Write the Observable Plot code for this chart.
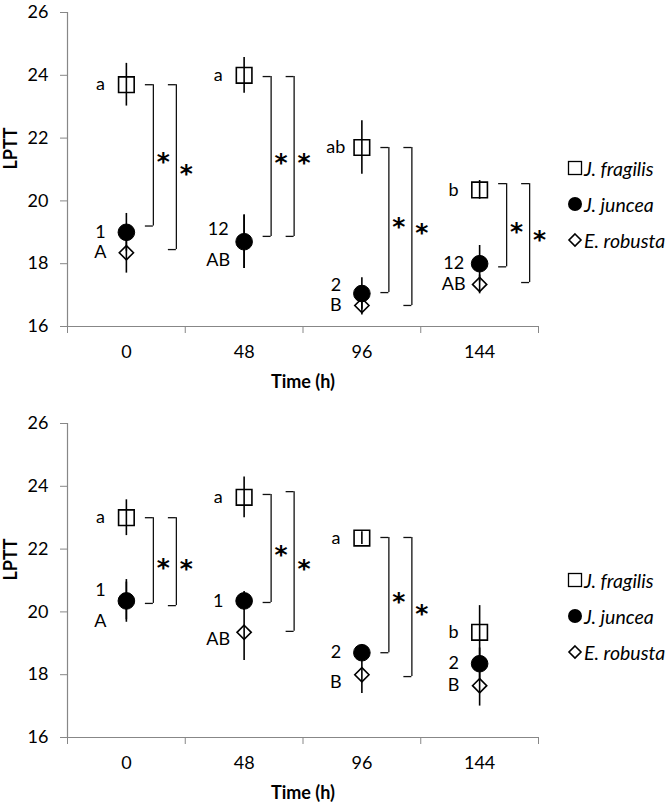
<!DOCTYPE html>
<html><head><meta charset="utf-8">
<script src="https://cdn.jsdelivr.net/npm/d3@7"></script>
<script src="https://cdn.jsdelivr.net/npm/@observablehq/plot@0.6"></script>
<style>
body{margin:0;background:#fff;}
.panel{position:relative;width:672px;}
.panel svg{display:block;}
.legend{position:absolute;left:567px;top:0;font-family:Lato,sans-serif;font-style:italic;font-size:19.5px;color:#000;}
.legend .row{position:absolute;left:0;white-space:nowrap;display:flex;align-items:center;height:22px;transform:translateY(-11px);}
.legend svg{margin-right:1px;}
</style></head><body><div id="chart"></div>
<script>
// ---------- data ----------
const times = ["0", "48", "96", "144"];
const seriesNames = ["J. fragilis", "J. juncea", "E. robusta"];
const yTicks = [16, 18, 20, 22, 24, 26];

// Panel 1 (top)
const fragilis1 = [23.7, 24.0, 21.7, 20.35];
const fragilisErr1 = [0.68, 0.57, 0.85, 0.3];
const juncea1 = [19.0, 18.7, 17.05, 18.0];
const junceaErr1 = [0.6, 0.85, 0.5, 0.58];
const robusta1 = [18.35, 18.7, 16.67, 17.34];
const robustaErr1 = [0.65, 0.85, 0.3, 0.3];
const fragLetters1 = ["a", "a", "ab", "b"];
const junceaNums1 = ["1", "12", "2", "12"];
const robustaLetters1 = ["A", "AB", "B", "AB"];
// significance brackets: top, bottom (vs J. juncea), bottom (vs E. robusta)
const brTop1 = [23.7, 23.96, 21.7, 20.55];
const brBotJ1 = [19.2, 18.87, 17.08, 17.9];
const brBotE1 = [18.45, 18.87, 16.67, 17.4];

// Panel 2 (bottom)
const fragilis2 = [23.0, 23.65, 22.35, 19.35];
const fragilisErr2 = [0.57, 0.65, 0.2, 0.85];
const juncea2 = [20.35, 20.35, 18.7, 18.35];
const junceaErr2 = [0.68, 0.3, 0.25, 0.5];
const robusta2 = [20.35, 19.35, 18.0, 17.65];
const robustaErr2 = [0.6, 0.9, 0.6, 0.65];
const fragLetters2 = ["a", "a", "a", "b"];
const junceaNums2 = ["1", "1", "2", "2"];
const robustaLetters2 = ["A", "AB", "B", "B"];
const brTopJ2 = [23.0, 23.74, 22.37];
const brTopE2 = [23.0, 23.83, 22.37];
const brBotJ2 = [20.27, 20.3, 18.7];
const brBotE2 = [20.2, 19.38, 17.94];

// ---------- layout (label nudges in y units) ----------
const nudgeJ1 = [0, 0.41, 0.25, 0];
const nudgeE1 = [0, -0.6, 0, 0];
const nudgeJ2 = [0.35, 0, 0, 0];
const nudgeE2 = [-0.64, -0.22, -0.25, 0];

const axisGray = "#878787";

function buildRows(means, errs, labels, nudges, s) {
  return means.map((m, i) => ({x: i + 0.5, series: s, mean: m, err: errs[i], label: labels[i], nudge: nudges ? nudges[i] : 0}));
}

function panel(cfg) {
  const F = buildRows(cfg.frag, cfg.fragErr, cfg.fragL, null, 0);
  const J = buildRows(cfg.jun, cfg.junErr, cfg.junL, cfg.nudgeJ, 1);
  const E = buildRows(cfg.rob, cfg.robErr, cfg.robL, cfg.nudgeE, 2);
  const all = [...E, ...J, ...F];
  const b1 = cfg.br1.top.map((t, i) => ({x: i + 0.5, top: t, bottom: cfg.br1.bottom[i]}));
  const b2 = cfg.br2.top.map((t, i) => ({x: i + 0.5, top: t, bottom: cfg.br2.bottom[i]}));
  const bracketMarks = (rows, off) => [
    Plot.ruleX(rows, {x: "x", y1: "top", y2: "bottom", dx: off, stroke: "#111", strokeWidth: 1.3}),
    Plot.ruleY(rows, {x1: "x", x2: "x", y: "top", dx: off - 8, insetRight: -8, stroke: "#111", strokeWidth: 1.3}),
    Plot.ruleY(rows, {x1: "x", x2: "x", y: "bottom", dx: off - 8, insetRight: -8, stroke: "#111", strokeWidth: 1.3}),
    Plot.text(rows, {x: "x", y: d => (d.top + d.bottom) / 2, text: () => "*", dx: off + 10, dy: 7, fontSize: 25, fontWeight: "bold", fontFamily: "DejaVu Sans", fill: "#000"})
  ];
  return Plot.plot({
    width: 672,
    height: cfg.height,
    marginLeft: 67,
    marginRight: 134,
    marginTop: cfg.marginTop,
    marginBottom: cfg.marginBottom,
    style: {fontFamily: "Lato, sans-serif", fontSize: "18px", color: "#000", background: "#fff"},
    x: {type: "linear", domain: [0, 4], label: null},
    y: {domain: [16, 26], label: null},
    marks: [
      Plot.ruleX([0], {y1: 16, y2: 26, stroke: axisGray, strokeWidth: 1.2}),
      Plot.ruleY([16], {stroke: axisGray, strokeWidth: 1.2}),
      Plot.axisY({ticks: yTicks, tickSize: 7, tickPadding: 12, stroke: axisGray, label: null, fontSize: 18}),
      Plot.axisX({ticks: [0, 1, 2, 3, 4], tickFormat: () => "", tickSize: 7, stroke: axisGray, label: null}),
      Plot.axisX({ticks: [0.5, 1.5, 2.5, 3.5], tickFormat: d => times[Math.floor(d)], tickSize: 0, tickPadding: 19, label: null, fontSize: 18}),
      Plot.text(["Time (h)"], {text: d => d, frameAnchor: "bottom", dy: 56, fontWeight: "bold", fontSize: 18, lineAnchor: "middle"}),
      Plot.text(["LPTT"], {text: d => d, frameAnchor: "left", dx: -56, rotate: -90, fontWeight: "bold", fontSize: 18, lineAnchor: "middle"}),
      ...bracketMarks(b1, 27),
      ...bracketMarks(b2, 50),
      Plot.dot(E, {x: "x", y: "mean", symbol: "diamond2", r: 6.4, fill: "#fff", stroke: "#000", strokeWidth: 1.6}),
      Plot.dot(J, {x: "x", y: "mean", symbol: "circle", r: 8.3, fill: "#000", stroke: "#000", strokeWidth: 1}),
      Plot.dot(F, {x: "x", y: "mean", symbol: "square", r: 8.8, fill: "#fff", stroke: "#000", strokeWidth: 1.6}),
      Plot.ruleX(all, {x: "x", y1: d => d.mean - d.err, y2: d => d.mean + d.err, stroke: "#000", strokeWidth: 1.6}),
      Plot.text(all, {x: "x", y: d => d.mean + d.nudge, text: "label", dx: -26, fontSize: 18, textAnchor: "middle", lineAnchor: "middle", fill: "#000"})
    ]
  });
}

function legend(rowsY) {
  const div = document.createElement("div");
  div.className = "legend";
  const icons = [
    '<svg width="16" height="16"><rect x="1.5" y="1.5" width="13" height="13" fill="#fff" stroke="#000" stroke-width="1.3"/></svg>',
    '<svg width="16" height="16"><circle cx="8" cy="8" r="7" fill="#000"/></svg>',
    '<svg width="16" height="16"><path d="M8 2 L14 8 L8 14 L2 8 Z" fill="#fff" stroke="#000" stroke-width="1.6"/></svg>'
  ];
  seriesNames.forEach((name, i) => {
    const r = document.createElement("div");
    r.className = "row";
    r.style.top = rowsY[i] + "px";
    r.innerHTML = icons[i] + '<span>' + name + '</span>';
    div.appendChild(r);
  });
  return div;
}

const chart = document.getElementById("chart");
const p1 = document.createElement("div"); p1.className = "panel";
p1.appendChild(panel({
  height: 400, marginTop: 12, marginBottom: 74,
  frag: fragilis1, fragErr: fragilisErr1, fragL: fragLetters1,
  jun: juncea1, junErr: junceaErr1, junL: junceaNums1, nudgeJ: nudgeJ1,
  rob: robusta1, robErr: robustaErr1, robL: robustaLetters1, nudgeE: nudgeE1,
  br1: {top: brTop1, bottom: brBotJ1}, br2: {top: brTop1, bottom: brBotE1}
}));
p1.appendChild(legend([168, 204, 240]));
chart.appendChild(p1);

const p2 = document.createElement("div"); p2.className = "panel";
p2.appendChild(panel({
  height: 409, marginTop: 23, marginBottom: 72,
  frag: fragilis2, fragErr: fragilisErr2, fragL: fragLetters2,
  jun: juncea2, junErr: junceaErr2, junL: junceaNums2, nudgeJ: nudgeJ2,
  rob: robusta2, robErr: robustaErr2, robL: robustaLetters2, nudgeE: nudgeE2,
  br1: {top: brTopJ2, bottom: brBotJ2}, br2: {top: brTopE2, bottom: brBotE2}
}));
p2.appendChild(legend([180, 216, 252]));
chart.appendChild(p2);
</script></body></html>
